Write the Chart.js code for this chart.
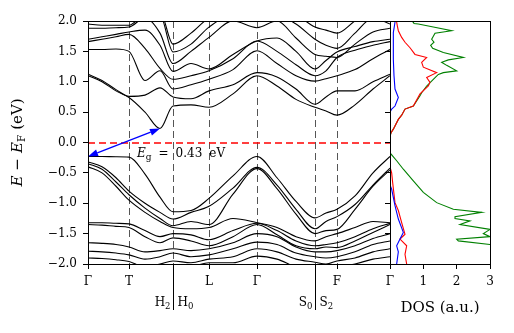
<!DOCTYPE html>
<html><head><meta charset="utf-8">
<script src="https://cdn.jsdelivr.net/npm/chart.js@4"></script>
<style>html,body{margin:0;padding:0;background:#fff;}#wrap{position:relative;width:514px;height:333px;}canvas{position:absolute;left:0;top:0;}</style>
</head><body><div id="wrap"><canvas id="bands" width="514" height="333"></canvas><canvas id="dos" width="514" height="333"></canvas></div>
<script>
// ---- path / ticks ----
const kPoints = [0,14,28,41,57,72,85,103,121,145,169,189,208,227,238,249,267,285,302];
const kTickPos = [0,41,85,121,169,227,249,302];
const kTickLabels = ['Γ','T','','L','Γ','','F',''];
const splitLabels = [{k:85,left:'H',leftSub:'2',right:'H',rightSub:'0'},{k:227,left:'S',leftSub:'0',right:'S',rightSub:'2'}];
const yTicks = [-2,-1.5,-1,-0.5,0,0.5,1,1.5,2];
const dosTicks = [0,1,2,3];
const dosTickLabels = ['Γ','1','2','3'];
const gapValue = '0.43';

// ---- valence bands (eV) ----
const vb1 = [-0.23,-0.23,-0.235,-0.24,-0.52,-0.90,-1.14,-1.12,-0.92,-0.55,-0.23,-0.58,-0.97,-1.24,-1.16,-1.10,-0.88,-0.50,-0.23];
const vb2 = [-0.32,-0.40,-0.58,-0.80,-1.00,-1.15,-1.26,-1.15,-1.05,-0.75,-0.41,-0.70,-1.10,-1.42,-1.30,-1.22,-1.02,-0.70,-0.42];
const vb3 = [-0.35,-0.44,-0.65,-0.86,-1.08,-1.25,-1.37,-1.30,-1.35,-0.85,-0.43,-0.76,-1.18,-1.50,-1.45,-1.43,-1.10,-0.72,-0.45];
const vb4 = [-0.40,-0.50,-0.72,-0.95,-1.15,-1.30,-1.40,-1.42,-1.40,-1.25,-1.32,-1.40,-1.55,-1.62,-1.55,-1.50,-1.40,-1.30,-1.32];
const vb5 = [-1.32,-1.32,-1.33,-1.34,-1.45,-1.55,-1.50,-1.52,-1.60,-1.45,-1.33,-1.45,-1.62,-1.70,-1.68,-1.65,-1.55,-1.42,-1.33];
const vb6 = [-1.35,-1.36,-1.38,-1.40,-1.55,-1.65,-1.57,-1.62,-1.70,-1.55,-1.35,-1.52,-1.70,-1.75,-1.72,-1.73,-1.62,-1.48,-1.35];
const vb7 = [-1.65,-1.66,-1.68,-1.72,-1.80,-1.78,-1.75,-1.78,-1.75,-1.65,-1.50,-1.55,-1.72,-1.80,-1.80,-1.78,-1.70,-1.58,-1.50];
const vb8 = [-1.79,-1.80,-1.82,-1.85,-1.92,-1.88,-1.82,-1.88,-1.85,-1.75,-1.64,-1.68,-1.82,-1.88,-1.90,-1.88,-1.80,-1.68,-1.62];
const vb9 = [-1.90,-1.91,-1.93,-1.96,-2.05,-2.00,-1.95,-1.98,-1.92,-1.88,-1.75,-1.80,-1.92,-1.97,-2.00,-1.95,-1.90,-1.80,-1.75];
const vb10 = [-2.10,-2.10,-2.10,-2.05,-2.10,-2.10,-2.10,-2.05,-1.98,-1.98,-1.87,-1.92,-2.05,-2.10,-2.10,-2.05,-2.00,-1.92,-1.88];
// ---- conduction bands (eV) ----
const cb1 = [1.10,1.00,0.85,0.74,0.50,0.23,0.60,0.62,0.58,0.80,1.10,0.93,0.71,0.58,0.52,0.45,0.62,0.88,1.10];
const cb2 = [1.125,1.02,0.87,0.76,0.78,0.90,0.75,0.72,0.85,0.95,1.15,1.08,0.88,0.63,0.75,0.85,0.85,1.00,1.125];
const cb3 = [1.53,1.53,1.54,1.50,1.02,1.18,0.88,0.95,1.04,1.20,1.51,1.30,1.10,1.01,1.05,1.10,1.20,1.38,1.53];
const cb4 = [1.66,1.70,1.74,1.78,1.55,1.22,1.04,1.10,1.18,1.38,1.67,1.50,1.28,1.10,1.18,1.40,1.52,1.60,1.66];
const cb5 = [1.70,1.74,1.78,1.82,1.85,1.60,1.17,1.30,1.21,1.45,1.67,1.72,1.50,1.21,1.35,1.49,1.58,1.66,1.70];
const cb6 = [1.88,1.88,1.89,1.90,2.05,1.80,1.30,1.50,1.73,2.00,1.89,2.00,1.72,1.45,1.42,1.40,1.62,1.82,1.88];
const cb7 = [1.95,1.93,1.93,1.93,2.10,2.10,1.49,1.62,1.90,2.10,2.05,2.10,1.95,1.70,1.60,1.55,1.80,2.05,1.95];
const cb8 = [2.10,2.10,2.10,2.10,2.15,2.15,1.62,1.80,2.05,2.15,2.15,2.15,2.10,1.90,1.85,1.80,2.00,2.15,2.10];
const bands = [vb1,vb2,vb3,vb4,vb5,vb6,vb7,vb8,vb9,vb10,cb1,cb2,cb3,cb4,cb5,cb6,cb7,cb8];

// ---- DOS curves (energy eV, DOS a.u.) ----
const greenE = [2.0,1.98,1.96,1.95,1.90,1.84,1.80,1.75,1.70,1.65,1.60,1.55,1.48,1.40,1.36,1.32,1.27,1.18,1.15,1.12,1.04,0.93,0.82,0.77,0.60,0.55,0.45,0.38,0.22,0.16,0.10,-0.18,-0.19,-0.30,-0.44,-0.63,-0.82,-0.99,-1.10,-1.15,-1.22,-1.25,-1.29,-1.35,-1.43,-1.50,-1.55,-1.59,-1.62,-1.68,-1.75,-2.0];
const greenD = [0.65,0.70,0.72,0.85,1.30,1.85,1.35,1.30,1.25,1.32,1.22,1.28,1.60,2.20,1.75,1.55,1.70,2.00,1.60,1.45,1.30,1.10,0.95,0.90,0.70,0.45,0.35,0.25,0.10,0.03,0.0,0.0,0.03,0.20,0.40,0.70,1.00,1.40,1.90,2.75,1.95,1.95,2.40,2.10,3.00,2.80,3.00,2.00,2.05,3.00,3.30,3.50];
const redE = [2.0,1.98,1.92,1.84,1.73,1.65,1.56,1.45,1.40,1.32,1.24,1.15,1.07,0.99,0.93,0.80,0.60,0.55,0.45,0.38,0.22,0.16,0.10,-0.40,-0.50,-0.66,-0.99,-1.12,-1.32,-1.51,-1.59,-1.70,-1.84,-2.0];
const redD = [0.20,0.20,0.22,0.25,0.35,0.45,0.60,0.75,1.10,0.95,1.00,1.40,1.10,1.20,1.15,0.90,0.70,0.45,0.35,0.25,0.10,0.03,0.0,0.0,0.05,0.08,0.15,0.25,0.35,0.45,0.30,0.50,0.45,0.50];
const blueE = [2.0,1.98,1.81,1.60,1.37,1.10,0.88,0.74,0.60,0.55,0.50,-0.70,-0.77,-1.04,-1.26,-1.48,-1.59,-1.70,-1.80,-2.0];
const blueD = [0.15,0.15,0.10,0.10,0.10,0.12,0.15,0.25,0.15,0.05,0.0,0.0,0.05,0.15,0.25,0.40,0.30,0.20,0.25,0.20];

const SERIF = '"DejaVu Serif", "Liberation Serif", serif';
const fmtE = v => (v < 0 ? '\u2212' : '') + Math.abs(v).toFixed(1);
const px = v => Math.round(v) + 0.5;

function drawPieces(ctx, pieces, x, y, align) {
  let total = 0;
  pieces.forEach(p => { ctx.font = p.font; p.w = ctx.measureText(p.t).width; total += p.w + (p.gap || 0); });
  let cx = align === 'center' ? x - total / 2 : x;
  ctx.textAlign = 'left'; ctx.textBaseline = 'alphabetic';
  pieces.forEach(p => { ctx.font = p.font; ctx.fillText(p.t, cx, y + (p.dy || 0)); cx += p.w + (p.gap || 0); });
}

const bandDecor = {
  id: 'bandDecor',
  beforeDatasetsDraw(chart) {
    const {ctx, chartArea: a, scales: {x}} = chart;
    ctx.save();
    ctx.strokeStyle = '#555'; ctx.lineWidth = 1; ctx.setLineDash([7, 4]);
    kTickPos.slice(1, -1).forEach(k => {
      const xp = px(x.getPixelForValue(k));
      ctx.beginPath(); ctx.moveTo(xp, a.top); ctx.lineTo(xp, a.bottom); ctx.stroke();
    });
    ctx.restore();
  },
  afterDatasetsDraw(chart) {
    const {ctx, chartArea: a, scales: {x, y}} = chart;
    ctx.save();
    // Fermi level
    ctx.strokeStyle = '#ff0000'; ctx.lineWidth = 1.6; ctx.setLineDash([7, 4]);
    const y0 = Math.round(y.getPixelForValue(0));
    ctx.beginPath(); ctx.moveTo(a.left, y0); ctx.lineTo(a.right, y0); ctx.stroke();
    ctx.setLineDash([]);
    // gap arrow from VBM (Γ) to CBM
    let ci = 0; cb1.forEach((v, i) => { if (v < cb1[ci]) ci = i; });
    const x1 = x.getPixelForValue(kPoints[0]), y1 = y.getPixelForValue(vb1[0]);
    const x2 = x.getPixelForValue(kPoints[ci]), y2 = y.getPixelForValue(cb1[ci]);
    const ang = Math.atan2(y2 - y1, x2 - x1), L = 10, W = 3.5;
    ctx.strokeStyle = '#0000ff'; ctx.fillStyle = '#0000ff'; ctx.lineWidth = 1.3;
    ctx.beginPath(); ctx.moveTo(x1 + Math.cos(ang) * L, y1 + Math.sin(ang) * L);
    ctx.lineTo(x2 - Math.cos(ang) * L, y2 - Math.sin(ang) * L); ctx.stroke();
    [[x1, y1, ang + Math.PI], [x2, y2, ang]].forEach(([hx, hy, an]) => {
      const bx = hx - Math.cos(an) * L, by = hy - Math.sin(an) * L;
      ctx.beginPath(); ctx.moveTo(hx, hy);
      ctx.lineTo(bx + Math.sin(an) * W, by - Math.cos(an) * W);
      ctx.lineTo(bx - Math.sin(an) * W, by + Math.cos(an) * W);
      ctx.closePath(); ctx.fill();
    });
    // gap label
    ctx.fillStyle = '#000';
    drawPieces(ctx, [
      {t: 'E', font: 'italic 12px ' + SERIF},
      {t: 'g', font: '9px ' + SERIF, dy: 3, gap: 7},
      {t: '=', font: '12px ' + SERIF, gap: 7},
      {t: gapValue, font: '12px ' + SERIF, gap: 7},
      {t: 'eV', font: '12px ' + SERIF}
    ], 137, 157, 'left');
    ctx.restore();
  },
  afterDraw(chart) {
    const {ctx, chartArea: a, scales: {x}} = chart;
    ctx.save();
    ctx.strokeStyle = '#000'; ctx.lineWidth = 1;
    ctx.strokeRect(px(a.left) , px(a.top), Math.round(a.right - a.left), Math.round(a.bottom - a.top));
    ctx.fillStyle = '#000';
    splitLabels.forEach(s => {
      const xp = px(x.getPixelForValue(s.k));
      ctx.beginPath(); ctx.moveTo(xp, a.bottom); ctx.lineTo(xp, a.bottom + 46); ctx.stroke();
      ctx.font = '12px ' + SERIF;
      const wL = ctx.measureText(s.left).width; ctx.font = '8.5px ' + SERIF; const wLs = ctx.measureText(s.leftSub).width;
      drawPieces(ctx, [{t: s.left, font: '12px ' + SERIF}, {t: s.leftSub, font: '8.5px ' + SERIF, dy: 3}], xp - 3 - wL - wLs, 306, 'left');
      drawPieces(ctx, [{t: s.right, font: '12px ' + SERIF}, {t: s.rightSub, font: '8.5px ' + SERIF, dy: 3}], xp + 4, 306, 'left');
    });
    // y axis title
    ctx.translate(17, (a.top + a.bottom) / 2);
    ctx.rotate(-Math.PI / 2);
    drawPieces(ctx, [
      {t: 'E', font: 'italic 15px ' + SERIF, gap: 5},
      {t: '\u2212', font: '15px ' + SERIF, gap: 5},
      {t: 'E', font: 'italic 15px ' + SERIF},
      {t: 'F', font: '10.5px ' + SERIF, dy: 3, gap: 5},
      {t: '(eV)', font: '15px ' + SERIF}
    ], 0, 5, 'center');
    ctx.restore();
  }
};

new Chart(document.getElementById('bands'), {
  type: 'scatter',
  data: {datasets: bands.map(b => ({
    data: kPoints.map((k, i) => ({x: k, y: b[i]})),
    showLine: true, borderColor: '#000', borderWidth: 1.1, pointRadius: 0,
    cubicInterpolationMode: 'monotone'
  }))},
  options: {
    responsive: false, animation: false, events: [],
    layout: {padding: {left: 0, right: 124, top: 21, bottom: 0}},
    plugins: {legend: {display: false}, tooltip: {enabled: false}},
    scales: {
      x: {type: 'linear', min: 0, max: 302,
        afterBuildTicks: s => { s.ticks = kTickPos.map(v => ({value: v})); },
        afterFit: s => { s.height = 69; },
        ticks: {callback: (v, i) => kTickLabels[i], font: {family: SERIF, size: 12}, color: '#000', padding: 6, maxRotation: 0, autoSkip: false},
        grid: {drawOnChartArea: false, tickLength: 5, color: '#000'},
        border: {color: '#000', width: 1}},
      y: {min: -2, max: 2,
        afterBuildTicks: s => { s.ticks = yTicks.map(v => ({value: v})); },
        afterFit: s => { s.width = 88; },
        ticks: {callback: v => fmtE(v), font: {family: SERIF, size: 12}, color: '#000', padding: 6},
        grid: {drawOnChartArea: false, tickLength: 5, color: '#000'},
        border: {color: '#000', width: 1}}
    }
  },
  plugins: [bandDecor]
});

const dosDecor = {
  id: 'dosDecor',
  afterDraw(chart) {
    const {ctx, chartArea: a} = chart;
    ctx.save();
    ctx.strokeStyle = '#000'; ctx.lineWidth = 1;
    ctx.strokeRect(px(a.left), px(a.top), Math.round(a.right - a.left), Math.round(a.bottom - a.top));
    ctx.fillStyle = '#000';
    ctx.font = '15px ' + SERIF; ctx.textAlign = 'center'; ctx.textBaseline = 'alphabetic';
    ctx.fillText('DOS (a.u.)', (a.left + a.right) / 2, 312);
    ctx.restore();
  }
};
const mk = (E, D) => E.map((e, i) => ({x: D[i], y: e}));
new Chart(document.getElementById('dos'), {
  type: 'scatter',
  data: {datasets: [
    {data: mk(blueE, blueD), borderColor: '#0000ff'},
    {data: mk(redE, redD), borderColor: '#ff0000'},
    {data: mk(greenE, greenD), borderColor: '#008000'}
  ].map(d => Object.assign(d, {showLine: true, borderWidth: 1.1, pointRadius: 0, tension: 0}))},
  options: {
    responsive: false, animation: false, events: [],
    layout: {padding: {left: 385, right: 24, top: 21, bottom: 0}},
    plugins: {legend: {display: false}, tooltip: {enabled: false}},
    scales: {
      x: {type: 'linear', min: 0, max: 3,
        afterBuildTicks: s => { s.ticks = dosTicks.map(v => ({value: v})); },
        afterFit: s => { s.height = 69; },
        ticks: {callback: (v, i) => dosTickLabels[i], font: {family: SERIF, size: 12}, color: '#000', padding: 6, maxRotation: 0, autoSkip: false},
        grid: {drawOnChartArea: false, tickLength: 5, color: '#000'},
        border: {color: '#000', width: 1}},
      y: {min: -2, max: 2,
        afterBuildTicks: s => { s.ticks = yTicks.map(v => ({value: v})); },
        afterFit: s => { s.width = 5; },
        ticks: {callback: () => '', padding: 0},
        grid: {drawOnChartArea: false, tickLength: 5, color: '#000'},
        border: {color: '#000', width: 1}}
    }
  },
  plugins: [dosDecor]
});
</script></body></html>
